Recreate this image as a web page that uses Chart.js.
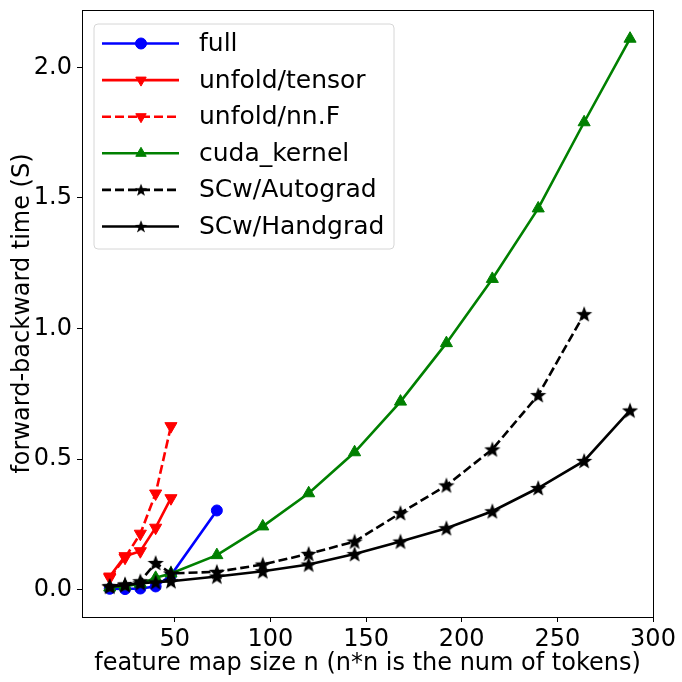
<!DOCTYPE html>
<html lang="en">
<head>
    <meta charset="UTF-8">
    <title>forward-backward time</title>
    <script src="https://cdn.jsdelivr.net/npm/chart.js"></script>
    <style>
        body { margin: 0; background: #fff; }
    </style>
</head>
<body>
    <canvas id="timeChart" width="682" height="682"></canvas>

    <script>
        // feature map sizes
        const sizesFull = [16, 24, 32, 40, 48, 72];
        const sizesUnfold = [16, 24, 32, 40, 48];
        const sizesCuda = [16, 24, 32, 40, 48, 72, 96, 120, 144, 168, 192, 216, 240, 264, 288];
        const sizesAuto = [16, 24, 32, 40, 48, 72, 96, 120, 144, 168, 192, 216, 240, 264];
        const sizesHand = [16, 24, 32, 40, 48, 72, 96, 120, 144, 168, 192, 216, 240, 264, 288];

        // timings (seconds)
        const fullTime = [0.003, 0.002, 0.004, 0.012, 0.055, 0.303];
        const unfoldTensorTime = [0.05, 0.128, 0.147, 0.237, 0.35];
        const unfoldNnFTime = [0.045, 0.122, 0.214, 0.368, 0.626];
        const cudaTime = [0.008, 0.013, 0.022, 0.045, 0.062, 0.132, 0.242, 0.369, 0.526, 0.72, 0.944, 1.19, 1.46, 1.79, 2.11];
        const autogradTime = [0.013, 0.02, 0.032, 0.102, 0.062, 0.068, 0.096, 0.137, 0.184, 0.293, 0.399, 0.537, 0.745, 1.055];
        const handgradTime = [0.012, 0.017, 0.024, 0.028, 0.032, 0.05, 0.07, 0.096, 0.136, 0.184, 0.235, 0.30, 0.389, 0.493, 0.686];

        const xTicks = [50, 100, 150, 200, 250, 300];
        const yTicks = [0, 0.5, 1.0, 1.5, 2.0];

        const FONT = "'DejaVu Sans', sans-serif";
        const DASH = [9, 4];

        // filled star marker
        function makeStar(size) {
            const c = document.createElement('canvas');
            c.width = size; c.height = size;
            const g = c.getContext('2d');
            const cx = size / 2, cy = size / 2 + 0.6, ro = size / 2 - 0.5, ri = ro * 0.42;
            g.beginPath();
            for (let i = 0; i < 10; i++) {
                const r = i % 2 === 0 ? ro : ri;
                const a = -Math.PI / 2 + i * Math.PI / 5;
                g.lineTo(cx + r * Math.cos(a), cy + r * Math.sin(a));
            }
            g.closePath();
            g.fillStyle = '#000';
            g.fill();
            return c;
        }
        const starImg = makeStar(18);

        function pts(xs, ys) {
            return xs.map((x, i) => ({ x: x, y: ys[i] }));
        }

        const series = [
            { label: 'full', data: pts(sizesFull, fullTime), color: '#0000ff', style: 'circle', radius: 5.5, rot: 0, dash: [] },
            { label: 'unfold/tensor', data: pts(sizesUnfold, unfoldTensorTime), color: '#ff0000', style: 'triangle', radius: 7, rot: 180, dash: [] },
            { label: 'unfold/nn.F', data: pts(sizesUnfold, unfoldNnFTime), color: '#ff0000', style: 'triangle', radius: 7, rot: 180, dash: DASH },
            { label: 'cuda_kernel', data: pts(sizesCuda, cudaTime), color: '#008000', style: 'triangle', radius: 7, rot: 0, dash: [] },
            { label: 'SCw/Autograd', data: pts(sizesAuto, autogradTime), color: '#000000', style: starImg, radius: 9, rot: 0, dash: DASH },
            { label: 'SCw/Handgrad', data: pts(sizesHand, handgradTime), color: '#000000', style: starImg, radius: 9, rot: 0, dash: [] }
        ];

        const datasets = series.map((s, i) => ({
            label: s.label,
            data: s.data,
            borderColor: s.color,
            backgroundColor: s.color,
            borderWidth: 2.6,
            borderDash: s.dash,
            pointStyle: s.style,
            pointRadius: s.radius,
            pointRotation: s.rot,
            pointBorderWidth: 1,
            pointBorderColor: s.color,
            pointBackgroundColor: s.color,
            tension: 0,
            order: series.length - i
        }));

        // full box around plot area
        const frame = {
            id: 'frame',
            afterDatasetsDraw(chart) {
                const a = chart.chartArea, ctx = chart.ctx;
                ctx.save();
                ctx.strokeStyle = '#000';
                ctx.lineWidth = 1;
                ctx.strokeRect(a.left + 0.5, a.top + 0.5, a.right - a.left, a.bottom - a.top);
                ctx.restore();
            }
        };

        // matplotlib-like legend in the upper left
        const legendBox = {
            id: 'legendBox',
            afterDraw(chart) {
                const ctx = chart.ctx;
                const bx = 94, by = 24, bw = 300, bh = 225, r = 4;
                ctx.save();
                ctx.beginPath();
                ctx.moveTo(bx + r, by);
                ctx.arcTo(bx + bw, by, bx + bw, by + bh, r);
                ctx.arcTo(bx + bw, by + bh, bx, by + bh, r);
                ctx.arcTo(bx, by + bh, bx, by, r);
                ctx.arcTo(bx, by, bx + bw, by, r);
                ctx.closePath();
                ctx.fillStyle = 'rgba(255,255,255,0.8)';
                ctx.fill();
                ctx.strokeStyle = '#d6d6d6';
                ctx.lineWidth = 1;
                ctx.stroke();

                series.forEach((s, i) => {
                    const y = 43.5 + i * 36.6;
                    ctx.beginPath();
                    ctx.setLineDash(s.dash);
                    ctx.strokeStyle = s.color;
                    ctx.lineWidth = 2.6;
                    ctx.moveTo(102, y);
                    ctx.lineTo(179, y);
                    ctx.stroke();
                    ctx.setLineDash([]);
                    if (s.style === starImg) {
                        ctx.drawImage(starImg, 141 - 7, y - 7, 14, 14);
                    } else {
                        ctx.fillStyle = s.color;
                        ctx.strokeStyle = s.color;
                        ctx.lineWidth = 1;
                        Chart.helpers.drawPoint(ctx, { pointStyle: s.style, rotation: s.rot, radius: s.style === 'circle' ? 5.5 : 6, borderWidth: 1 }, 141, y);
                    }
                    ctx.fillStyle = '#000';
                    ctx.font = '25px ' + FONT;
                    ctx.textAlign = 'left';
                    ctx.textBaseline = 'middle';
                    ctx.fillText(s.label, 199, y + 1);
                });
                ctx.restore();
            }
        };

        new Chart(document.getElementById('timeChart'), {
            type: 'line',
            data: { datasets: datasets },
            options: {
                responsive: false,
                animation: false,
                layout: { padding: { top: 10, right: 29, left: 0, bottom: 0 } },
                plugins: {
                    legend: { display: false },
                    tooltip: { enabled: false }
                },
                scales: {
                    x: {
                        type: 'linear',
                        min: 1.5,
                        max: 300,
                        afterBuildTicks: s => { s.ticks = xTicks.map(v => ({ value: v })); },
                        afterFit: s => { s.height = 65; s.paddingLeft = 0; s.paddingRight = 0; },
                        grid: { display: true, drawOnChartArea: false, drawTicks: true, tickLength: 5, color: '#000' },
                        border: { display: true, color: '#000' },
                        ticks: { color: '#000', font: { family: FONT, size: 24 }, padding: 3, maxRotation: 0 },
                        title: { display: true, text: 'feature map size n (n*n is the num of tokens)', color: '#000', font: { family: FONT, size: 24 }, padding: { top: 0, bottom: 4 } }
                    },
                    y: {
                        type: 'linear',
                        min: -0.105,
                        max: 2.22,
                        afterBuildTicks: s => { s.ticks = yTicks.map(v => ({ value: v })); },
                        afterFit: s => { s.width = 82; s.paddingTop = 0; s.paddingBottom = 0; },
                        grid: { display: true, drawOnChartArea: false, drawTicks: true, tickLength: 5, color: '#000' },
                        border: { display: true, color: '#000' },
                        ticks: { color: '#000', font: { family: FONT, size: 24 }, padding: 5, callback: v => v.toFixed(1) },
                        title: { display: true, text: 'forward-backward time (S)', color: '#000', font: { family: FONT, size: 24 }, padding: { top: 8, bottom: 0 } }
                    }
                }
            },
            plugins: [frame, legendBox]
        });
    </script>
</body>
</html>
